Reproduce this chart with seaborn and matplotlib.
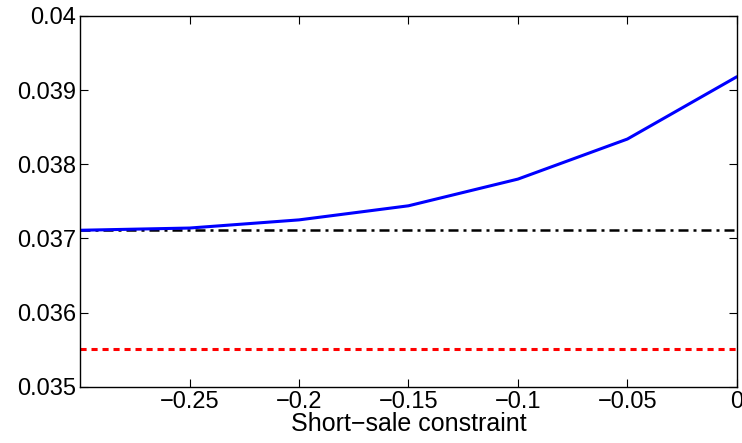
import numpy as np
import pandas as pd
import seaborn as sns
import matplotlib.pyplot as plt

# data
constraint = [-0.3, -0.25, -0.2, -0.15, -0.1, -0.05, 0.0]
with_constraint = [0.03711, 0.03714, 0.03725, 0.03744, 0.03780, 0.03834, 0.03918]
benchmark_black = [0.03711] * 7
benchmark_red = [0.03551] * 7

xticks = [-0.25, -0.2, -0.15, -0.1, -0.05, 0]
xtick_labels = ['\u22120.25', '\u22120.2', '\u22120.15', '\u22120.1', '\u22120.05', '0']
yticks = [0.035, 0.036, 0.037, 0.038, 0.039, 0.04]
ytick_labels = ['0.035', '0.036', '0.037', '0.038', '0.039', '0.04']

df = pd.DataFrame({'x': constraint, 'blue': with_constraint,
                   'black': benchmark_black, 'red': benchmark_red})

sns.set_style('white')
plt.rcParams['font.family'] = ['Liberation Sans', 'DejaVu Sans']
plt.rcParams['text.color'] = 'black'
plt.rcParams['axes.labelcolor'] = 'black'
plt.rcParams['xtick.color'] = 'black'
plt.rcParams['ytick.color'] = 'black'

fig = plt.figure(figsize=(7.42, 4.43), dpi=100)
ax = fig.add_axes([0.108, 0.127, 0.885, 0.837])

sns.lineplot(data=df, x='x', y='red', ax=ax, color='#ff0000', lw=2.2,
             linestyle=(0, (2.0, 1.6)))
sns.lineplot(data=df, x='x', y='black', ax=ax, color='black', lw=1.8,
             linestyle=(0, (4, 2, 1.2, 2)))
sns.lineplot(data=df, x='x', y='blue', ax=ax, color='#0000ff', lw=2.2)

ax.set_xlim(-0.3, 0)
ax.set_ylim(0.035, 0.04)
ax.set_xticks(xticks)
ax.set_xticklabels(xtick_labels)
ax.set_yticks(yticks)
ax.set_yticklabels(ytick_labels)
ax.tick_params(direction='in', length=6, width=0.8, labelsize=17,
               colors='black', top=True, right=True, bottom=True, left=True,
               pad=3)
for s in ax.spines.values():
    s.set_color('black')
    s.set_linewidth(1.0)
ax.set_xlabel('Short\u2212sale constraint', fontsize=18, labelpad=-1,
              color='black')
ax.set_ylabel('')

fig.savefig('out.png', dpi=100)
